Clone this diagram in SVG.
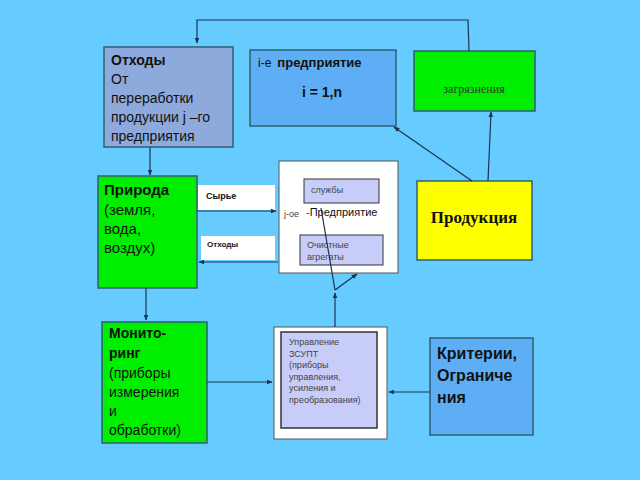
<svg xmlns="http://www.w3.org/2000/svg" width="640" height="480" viewBox="0 0 640 480">
<defs>
<marker id="ah" viewBox="0 0 10 10" refX="9" refY="5" markerWidth="5" markerHeight="5" orient="auto-start-reverse"><path d="M0,1 L10,5 L0,9 z" fill="#1b3350"/></marker>
<style>
.bx{stroke:#2f6070;stroke-width:1.5}
.s{font-family:"Liberation Sans",Arial,sans-serif;fill:#111}
.b{font-weight:bold}
.sm{font-family:"Liberation Sans",Arial,sans-serif;fill:#444;font-size:9px}
.ser{font-family:"Liberation Serif","Times New Roman",serif}
.ln{stroke:#1b3350;stroke-width:1.2;fill:none}
</style>
</defs>
<rect width="640" height="480" fill="#66CCFF"/>

<g id="othody">
<rect class="bx" x="104" y="47" width="129" height="100" fill="#8EA9DB"/>
<text class="s" x="111" y="65" font-size="14"><tspan class="b">Отходы</tspan><tspan x="111" dy="19">От</tspan><tspan x="111" dy="19">переработки</tspan><tspan x="111" dy="19">продукции j –го</tspan><tspan x="111" dy="19">предприятия</tspan></text>
</g>

<g id="ie">
<rect class="bx" x="250" y="50" width="146" height="76" fill="#5EAEF5"/>
<text class="s" x="258" y="67" font-size="13"><tspan font-weight="normal" font-size="12">i-е</tspan><tspan class="b" dx="6">предприятие</tspan></text>
<text class="s b" x="322" y="97" font-size="14" text-anchor="middle">i = 1,n</text>
</g>

<g id="zagr">
<rect class="bx" x="414" y="51" width="121" height="60" fill="#00EE00"/>
<text class="ser" x="474" y="93" font-size="12" fill="#333" text-anchor="middle">загрязнения</text>
</g>

<g id="priroda">
<rect class="bx" x="98" y="176" width="99" height="112" fill="#00EE00"/>
<text class="s" x="104" y="195" font-size="15"><tspan class="b">Природа</tspan><tspan x="104" dy="20">(земля,</tspan><tspan x="104" dy="19">вода,</tspan><tspan x="104" dy="19">воздух)</tspan></text>
</g>

<g id="syrie">
<rect x="198" y="185" width="77" height="25" fill="#fff"/>
<text class="s b" x="206" y="199" font-size="9">Сырье</text>
</g>

<g id="othody2">
<rect x="201" y="236" width="74" height="24" fill="#fff"/>
<text class="s b" x="207" y="247" font-size="8">Отходы</text>
</g>

<g id="predpr">
<rect x="279" y="161" width="119" height="112" fill="#fff" stroke="#555" stroke-width="1"/>
<rect x="304" y="179" width="75" height="24" fill="#C8CCF8" stroke="#333" stroke-width="1"/>
<text class="sm" x="311" y="193">службы</text>
<text class="sm" x="284" y="217" font-size="8">j-ое</text>
<text class="s" x="306" y="216" font-size="11"><tspan fill="#444">-</tspan>Предприятие</text>
<rect x="300" y="235" width="83" height="30" fill="#C8CCF8" stroke="#333" stroke-width="1"/>
<text class="sm" x="307" y="248">Очистные</text>
<text class="sm" x="307" y="260">агрегаты</text>
</g>

<g id="produkcia">
<rect class="bx" x="417" y="181" width="115" height="79" fill="#FFFF00"/>
<text class="ser b" x="474" y="223" font-size="17" fill="#111" text-anchor="middle">Продукция</text>
</g>

<g id="monitoring">
<rect class="bx" x="102" y="322" width="105" height="121" fill="#00EE00"/>
<text class="s" x="109" y="338" font-size="14"><tspan class="b">Монито-</tspan><tspan class="b" x="109" dy="20">ринг</tspan><tspan x="109" dy="20">(приборы</tspan><tspan x="109" dy="19">измерения</tspan><tspan x="109" dy="19">и</tspan><tspan x="109" dy="19">обработки)</tspan></text>
</g>

<g id="upravlenie">
<rect x="274" y="327" width="113" height="112" fill="#fff" stroke="#555" stroke-width="1"/>
<rect x="281" y="332" width="96" height="96" fill="#C8CCF8" stroke="#333" stroke-width="1.5"/>
<text class="sm" x="289" y="345" font-size="8.5"><tspan>Управление</tspan><tspan x="289" dy="11.5">ЗСУПТ</tspan><tspan x="289" dy="11.5">(приборы</tspan><tspan x="289" dy="11.5">управления,</tspan><tspan x="289" dy="11.5">усиления и</tspan><tspan x="289" dy="11.5">преобразования)</tspan></text>
</g>

<g id="kriterii">
<rect class="bx" x="430" y="338" width="103" height="97" fill="#5EAEF5"/>
<text class="s b" x="437" y="359" font-size="16"><tspan>Критерии,</tspan><tspan x="437" dy="22">Ограниче</tspan><tspan x="437" dy="22">ния</tspan></text>
</g>

<g id="connectors">
<polyline class="ln" points="469,51 468,20 197,20 197,43" marker-end="url(#ah)"/>
<line class="ln" x1="150" y1="147" x2="150" y2="175" marker-end="url(#ah)"/>
<line class="ln" x1="146" y1="288" x2="146" y2="320" marker-end="url(#ah)"/>
<line class="ln" x1="472" y1="181" x2="394" y2="127" marker-end="url(#ah)"/>
<line class="ln" x1="488" y1="181" x2="491" y2="112" marker-end="url(#ah)"/>
<line class="ln" x1="197" y1="211" x2="276" y2="211" marker-end="url(#ah)"/>
<line class="ln" x1="278" y1="262" x2="199" y2="262" marker-end="url(#ah)"/>
<line class="ln" x1="207" y1="382" x2="272" y2="382" marker-end="url(#ah)"/>
<line class="ln" x1="430" y1="392" x2="389" y2="392" marker-end="url(#ah)"/>
<line class="ln" x1="335" y1="327" x2="335" y2="293" marker-end="url(#ah)"/>
<line class="ln" x1="335" y1="290" x2="357" y2="274" marker-end="url(#ah)"/>
<line class="ln" x1="335" y1="290" x2="321" y2="208"/>
</g>
</svg>
